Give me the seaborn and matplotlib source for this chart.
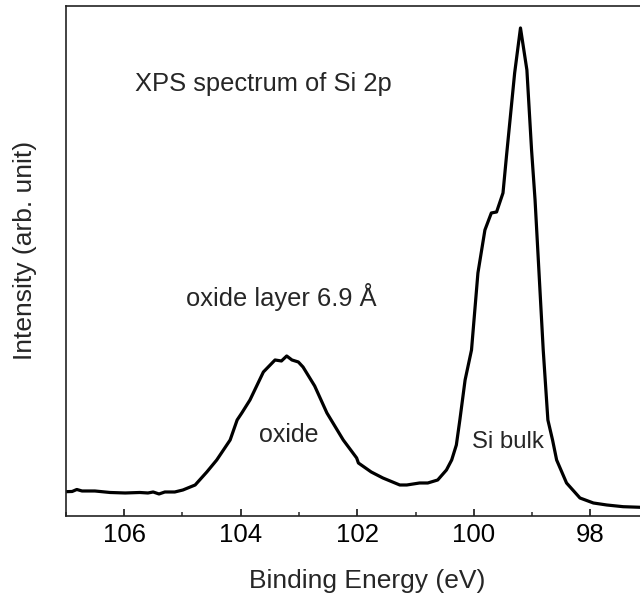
import numpy as np
import pandas as pd
import matplotlib
matplotlib.use("Agg")
import matplotlib.pyplot as plt
from matplotlib.ticker import MultipleLocator
import seaborn as sns

# binding energy (eV) and intensity (arb. unit)
energy = [107.0, 106.89, 106.81, 106.72, 106.50, 106.24, 105.98, 105.73, 105.59, 105.50,
          105.40, 105.30, 105.13, 104.99, 104.78, 104.58, 104.41, 104.18, 104.06, 103.98,
          103.84, 103.61, 103.41, 103.30, 103.21, 103.12, 103.01, 102.93, 102.73, 102.52,
          102.24, 102.01, 101.98, 101.76, 101.56, 101.27, 101.15, 100.93, 100.79, 100.62,
          100.47, 100.38, 100.30, 100.24, 100.15, 100.04, 99.93, 99.81, 99.70, 99.61,
          99.50, 99.44, 99.30, 99.20, 99.09, 99.01, 98.95, 98.81, 98.73, 98.65,
          98.58, 98.41, 98.18, 97.95, 97.72, 97.44, 97.15]
intensity = [24.3, 24.5, 26.5, 25, 25, 23.5, 23, 23.5, 23, 24,
             22, 24, 24, 26, 31, 44, 56, 76, 96, 103,
             116, 144, 156, 155, 160, 156, 154, 149, 130, 103,
             76, 58, 53, 44, 38, 31, 31, 33, 33, 36,
             46, 56, 71, 96, 136, 166, 243, 286, 303, 304,
             323, 360, 443, 488, 446, 366, 316, 166, 96, 76,
             56, 33, 18, 13, 11, 9.3, 8.7]

annotations = ["XPS spectrum of Si 2p", "oxide layer 6.9 Å", "oxide", "Si bulk"]
ann_x = [105.81, 104.94, 103.69, 100.04]
ann_y = [432, 219, 81, 74]
ann_size = [18.4, 18.4, 18, 17.2]

df = pd.DataFrame({"Binding Energy": energy, "Intensity": intensity})

sns.set_style("ticks")
plt.rcParams["font.family"] = ["Liberation Sans", "DejaVu Sans"]

fig = plt.figure(figsize=(6.4, 5.97), dpi=100)
ax = fig.add_axes([0.1027, 0.1357, 0.8973, 0.8543])

sns.lineplot(data=df, x="Binding Energy", y="Intensity", sort=False,
             color="black", linewidth=2.3, ax=ax)

for txt, tx, ty, fs in zip(annotations, ann_x, ann_y, ann_size):
    ax.text(tx, ty, txt, ha="left", va="center", fontsize=fs)

ax.set_xlim(107.0, 97.15)
ax.set_ylim(0, 510)
ax.xaxis.set_major_locator(MultipleLocator(2))
ax.xaxis.set_minor_locator(MultipleLocator(1))
ax.set_yticks([])
ax.tick_params(axis="x", which="major", direction="in", length=5, width=1.1,
               labelsize=18.5, pad=5, colors="black")
ax.tick_params(axis="x", which="minor", direction="in", length=3.2, width=1.1)
ax.tick_params(top=False)

ax.set_xlabel("Binding Energy (eV)", fontsize=19)
ax.set_ylabel("Intensity (arb. unit)", fontsize=19)
# the original frame runs past the right crop, so the labels sit off-centre
ax.xaxis.set_label_coords(0.5255, -0.104)
ax.yaxis.set_label_coords(-0.05, 0.52)

for side in ["left", "top", "bottom"]:
    ax.spines[side].set_linewidth(1.2)
    ax.spines[side].set_color("#222222")
ax.spines["right"].set_visible(False)

fig.savefig("out.png", dpi=100)
